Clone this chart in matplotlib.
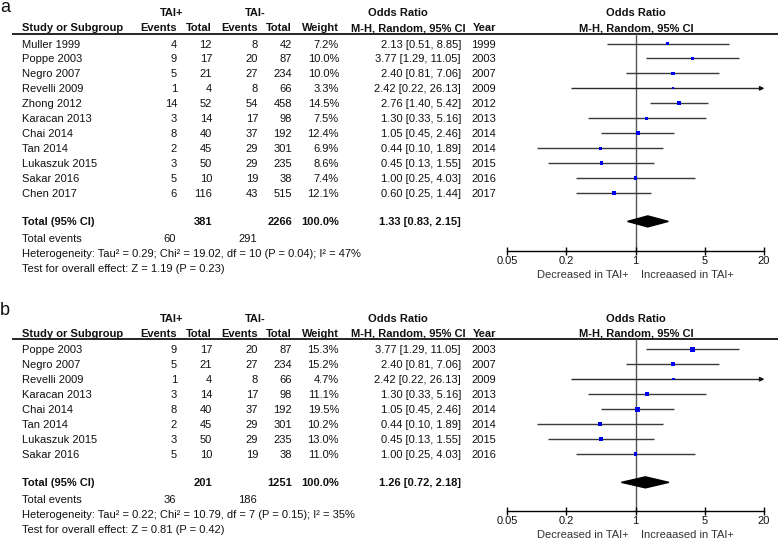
import matplotlib
matplotlib.use('Agg')
import matplotlib.pyplot as plt
from matplotlib.patches import Polygon
from matplotlib.ticker import NullLocator, FixedLocator, FixedFormatter

plt.rcParams['font.family'] = ['Liberation Sans', 'DejaVu Sans']

# ---------------- data ----------------
studies_a = ['Muller 1999', 'Poppe 2003', 'Negro 2007', 'Revelli 2009', 'Zhong 2012',
             'Karacan 2013', 'Chai 2014', 'Tan 2014', 'Lukaszuk 2015', 'Sakar 2016', 'Chen 2017']
ev_pos_a = [4, 9, 5, 1, 14, 3, 8, 2, 3, 5, 6]
tot_pos_a = [12, 17, 21, 4, 52, 14, 40, 45, 50, 10, 116]
ev_neg_a = [8, 20, 27, 8, 54, 17, 37, 29, 29, 19, 43]
tot_neg_a = [42, 87, 234, 66, 458, 98, 192, 301, 235, 38, 515]
weight_a = [7.2, 10.0, 10.0, 3.3, 14.5, 7.5, 12.4, 6.9, 8.6, 7.4, 12.1]
or_a = [2.13, 3.77, 2.40, 2.42, 2.76, 1.30, 1.05, 0.44, 0.45, 1.00, 0.60]
lo_a = [0.51, 1.29, 0.81, 0.22, 1.40, 0.33, 0.45, 0.10, 0.13, 0.25, 0.25]
hi_a = [8.85, 11.05, 7.06, 26.13, 5.42, 5.16, 2.46, 1.89, 1.55, 4.03, 1.44]
year_a = [1999, 2003, 2007, 2009, 2012, 2013, 2014, 2014, 2015, 2016, 2017]
total_a = dict(tot_pos=381, tot_neg=2266, ev_pos=60, ev_neg=291, est=1.33, lo=0.83, hi=2.15,
               het='Heterogeneity: Tau² = 0.29; Chi² = 19.02, df = 10 (P = 0.04); I² = 47%',
               test='Test for overall effect: Z = 1.19 (P = 0.23)')

studies_b = ['Poppe 2003', 'Negro 2007', 'Revelli 2009', 'Karacan 2013', 'Chai 2014',
             'Tan 2014', 'Lukaszuk 2015', 'Sakar 2016']
ev_pos_b = [9, 5, 1, 3, 8, 2, 3, 5]
tot_pos_b = [17, 21, 4, 14, 40, 45, 50, 10]
ev_neg_b = [20, 27, 8, 17, 37, 29, 29, 19]
tot_neg_b = [87, 234, 66, 98, 192, 301, 235, 38]
weight_b = [15.3, 15.2, 4.7, 11.1, 19.5, 10.2, 13.0, 11.0]
or_b = [3.77, 2.40, 2.42, 1.30, 1.05, 0.44, 0.45, 1.00]
lo_b = [1.29, 0.81, 0.22, 0.33, 0.45, 0.10, 0.13, 0.25]
hi_b = [11.05, 7.06, 26.13, 5.16, 2.46, 1.89, 1.55, 4.03]
year_b = [2003, 2007, 2009, 2013, 2014, 2014, 2015, 2016]
total_b = dict(tot_pos=201, tot_neg=1251, ev_pos=36, ev_neg=186, est=1.26, lo=0.72, hi=2.18,
               het='Heterogeneity: Tau² = 0.22; Chi² = 10.79, df = 7 (P = 0.15); I² = 35%',
               test='Test for overall effect: Z = 0.81 (P = 0.42)')

tick_vals = [0.05, 0.2, 1, 5, 20]
tick_labels = ['0.05', '0.2', '1', '5', '20']

# ---------------- layout ----------------
W, H = 778, 539
fig = plt.figure(figsize=(W / 100, H / 100), dpi=100)
ov = fig.add_axes([0, 0, 1, 1])
ov.set_xlim(0, W)
ov.set_ylim(H, 0)
ov.axis('off')

FS = 8
TXT = '#111111'
X0, X1 = 507, 764       # forest axis pixel extent
STEP = 14.95
BASE = 4.0              # centre -> baseline offset (px)


def t(x, y, s, ha='left', bold=False, size=FS, color=TXT):
    ov.text(x, y + BASE, s, ha=ha, va='baseline', fontsize=size,
            fontweight='bold' if bold else 'normal', color=color)


def panel(letter, letter_y, head_y, first_row, axis_y, studies, evp, totp, evn, totn,
          wt, orv, lo, hi, yr, tot):
    n = len(studies)
    ov.text(0, letter_y, letter, fontsize=13, ha='left', va='baseline', color=TXT)
    # headers
    t(172, head_y - 21, 'TAI+', ha='center', bold=True)
    t(255, head_y - 21, 'TAI-', ha='center', bold=True)
    t(398, head_y - 21, 'Odds Ratio', ha='center', bold=True)
    t(636, head_y - 21, 'Odds Ratio', ha='center', bold=True)
    y2 = head_y - 6.3
    t(22, y2, 'Study or Subgroup', bold=True)
    t(177, y2, 'Events', ha='right', bold=True)
    t(212, y2, 'Total', ha='right', bold=True)
    t(258, y2, 'Events', ha='right', bold=True)
    t(292, y2, 'Total', ha='right', bold=True)
    t(339, y2, 'Weight', ha='right', bold=True)
    t(466, y2, 'M-H, Random, 95% CI', ha='right', bold=True)
    t(496, y2, 'Year', ha='right', bold=True)
    t(636, y2, 'M-H, Random, 95% CI', ha='center', bold=True)
    ov.plot([12, W], [head_y, head_y], color='black', lw=1.2, solid_capstyle='butt')

    # rows
    for i in range(n):
        y = first_row + i * STEP
        t(22, y, studies[i])
        t(177, y, str(evp[i]), ha='right')
        t(212, y, str(totp[i]), ha='right')
        t(258, y, str(evn[i]), ha='right')
        t(292, y, str(totn[i]), ha='right')
        t(339, y, f'{wt[i]:.1f}%', ha='right')
        t(461, y, f'{orv[i]:.2f} [{lo[i]:.2f}, {hi[i]:.2f}]', ha='right')
        t(496, y, str(yr[i]), ha='right')
    ytot = first_row + (n - 1 + 1.9) * STEP
    t(22, ytot, 'Total (95% CI)', bold=True)
    t(212, ytot, str(tot['tot_pos']), ha='right', bold=True)
    t(292, ytot, str(tot['tot_neg']), ha='right', bold=True)
    t(339, ytot, '100.0%', ha='right', bold=True)
    t(461, ytot, f"{tot['est']:.2f} [{tot['lo']:.2f}, {tot['hi']:.2f}]", ha='right', bold=True)
    t(22, ytot + 16.5, 'Total events')
    t(176, ytot + 16.5, str(tot['ev_pos']), ha='right')
    t(257, ytot + 16.5, str(tot['ev_neg']), ha='right')
    t(22, ytot + 31.5, tot['het'])
    t(22, ytot + 46.5, tot['test'])

    # forest axes
    ax = fig.add_axes([X0 / W, 1 - axis_y / H, (X1 - X0) / W, (axis_y - head_y) / H])
    ax.patch.set_alpha(0)
    ax.set_xscale('log')
    ax.set_xlim(tick_vals[0], tick_vals[-1])
    ax.set_ylim((axis_y - first_row) / STEP, (head_y - first_row) / STEP)
    for s in ['top', 'left', 'right']:
        ax.spines[s].set_visible(False)
    ax.spines['bottom'].set_linewidth(1.0)
    ax.set_yticks([])
    ax.xaxis.set_major_locator(FixedLocator(tick_vals))
    ax.xaxis.set_major_formatter(FixedFormatter(tick_labels))
    ax.xaxis.set_minor_locator(NullLocator())
    ax.tick_params(axis='x', direction='inout', length=6, width=1, pad=0.5,
                   labelsize=FS, labelcolor=TXT)
    ax.axvline(1, color='#555555', lw=1, zorder=1)
    xmax = tick_vals[-1]
    for i in range(n):
        if hi[i] > xmax:
            ax.hlines(i, lo[i], xmax * 0.96, color='#2a2a2a', lw=1, zorder=2)
            ax.annotate('', xy=(xmax * 1.01, i), xytext=(xmax * 0.9, i),
                        arrowprops=dict(arrowstyle='-|>', color='#111111', lw=1,
                                        mutation_scale=6, shrinkA=0, shrinkB=0),
                        annotation_clip=False)
        else:
            ax.hlines(i, lo[i], hi[i], color='#3a3a3a', lw=1, zorder=2)
    ax.scatter(orv, range(n), s=[0.68 * w for w in wt], marker='s', color='#0000ee',
               linewidths=0, zorder=3)
    yd = n - 1 + 1.9
    hh = 5.5 / STEP
    ax.add_patch(Polygon([(tot['lo'], yd), (tot['est'], yd - hh), (tot['hi'], yd),
                          (tot['est'], yd + hh)], closed=True, color='black', zorder=3))
    t(629, axis_y + 22.5, 'Decreased in TAI+', ha='right', color='#333333')
    t(641, axis_y + 22.5, 'Increaased in TAI+', ha='left', color='#333333')


panel('a', 12, 33.5, 43.5, 251, studies_a, ev_pos_a, tot_pos_a, ev_neg_a, tot_neg_a,
      weight_a, or_a, lo_a, hi_a, year_a, total_a)
panel('b', 315, 339, 349.3, 511, studies_b, ev_pos_b, tot_pos_b, ev_neg_b, tot_neg_b,
      weight_b, or_b, lo_b, hi_b, year_b, total_b)

fig.savefig('out.png', dpi=100)
